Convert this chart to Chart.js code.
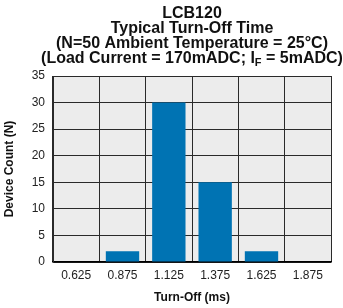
<!DOCTYPE html>
<html>
<head>
<meta charset="utf-8">
<script src="https://cdn.jsdelivr.net/npm/chart.js@4.4.1/dist/chart.umd.min.js"></script>
<style>
  html, body { margin: 0; padding: 0; background: #fff; }
  #wrap { width: 343px; height: 308px; }
</style>
</head>
<body>
<div id="wrap"><canvas id="chart" width="343" height="308"></canvas></div>
<script>
(function () {
    "use strict";

    // Data
    const categories = ["0.625", "0.875", "1.125", "1.375", "1.625", "1.875"];
    const deviceCounts = [0, 2, 30, 15, 2, 0];
    const yTickMax = 35;
    const yTickStep = 5;
    const titleLines = [
        "LCB120",
        "Typical Turn-Off Time",
        "(N=50 Ambient Temperature = 25\u00B0C)",
    ];
    // last title line has a subscript: I with F below
    const titleLastLine = ["(Load Current = 170mADC; I", "F", " = 5mADC)"];

    const fontFamily = "'Liberation Sans', Arial, Helvetica, sans-serif";

    // Grey plot background
    const plotBackground = {
        id: "plotBackground",
        beforeDraw(chart) {
            const { ctx, chartArea } = chart;
            ctx.save();
            ctx.fillStyle = "#ececec";
            ctx.fillRect(chartArea.left, chartArea.top,
                chartArea.right - chartArea.left, chartArea.bottom - chartArea.top);
            ctx.restore();
        },
    };

    // Multi-line title with subscript
    const titleBlock = {
        id: "titleBlock",
        afterDraw(chart) {
            const { ctx, chartArea } = chart;
            const cx = (chartArea.left + chartArea.right) / 2;
            ctx.save();
            ctx.fillStyle = "#111";
            ctx.textBaseline = "alphabetic";
            ctx.font = "bold 16px " + fontFamily;
            ctx.textAlign = "center";
            const baselines = [17.5, 32.5, 47.5, 62.5];
            titleLines.forEach((line, i) => {
                ctx.fillText(line, cx, baselines[i]);
            });

            // last line drawn in parts
            ctx.textAlign = "left";
            const bigFont = "bold 16px " + fontFamily;
            const subFont = "bold 11px " + fontFamily;
            ctx.font = bigFont;
            const w1 = ctx.measureText(titleLastLine[0]).width;
            const w3 = ctx.measureText(titleLastLine[2]).width;
            ctx.font = subFont;
            const w2 = ctx.measureText(titleLastLine[1]).width;
            let x = cx - (w1 + w2 + w3) / 2;
            const y = baselines[3];
            ctx.font = bigFont;
            ctx.fillText(titleLastLine[0], x, y);
            x += w1;
            ctx.font = subFont;
            ctx.fillText(titleLastLine[1], x, y + 3);
            x += w2;
            ctx.font = bigFont;
            ctx.fillText(titleLastLine[2], x, y);
            ctx.restore();
        },
    };

    const ctx = document.getElementById("chart").getContext("2d");

    new Chart(ctx, {
        type: "bar",
        data: {
            labels: categories,
            datasets: [
                {
                    data: deviceCounts,
                    backgroundColor: "#0073b3",
                    borderWidth: 0,
                    barPercentage: 0.72,
                    categoryPercentage: 1,
                },
            ],
        },
        options: {
            responsive: false,
            animation: false,
            devicePixelRatio: 1,
            layout: {
                padding: { top: 76, right: 12, bottom: 0, left: 0 },
            },
            plugins: {
                legend: { display: false },
                title: { display: false },
                tooltip: { enabled: false },
            },
            scales: {
                x: {
                    grid: {
                        offset: true,
                        color: "#2a2a2a",
                        lineWidth: 1,
                        drawTicks: false,
                    },
                    border: { display: true, color: "#000", width: 1.5 },
                    ticks: {
                        color: "#222",
                        font: { family: fontFamily, size: 12 },
                        padding: 6,
                    },
                    title: {
                        display: true,
                        text: "Turn-Off (ms)",
                        color: "#111",
                        font: { family: fontFamily, size: 12, weight: "bold" },
                        padding: { top: 3, bottom: 3 },
                    },
                    afterFit(scale) {
                        scale.height = 46;
                    },
                },
                y: {
                    min: 0,
                    max: yTickMax,
                    grid: {
                        color: "#2a2a2a",
                        lineWidth: 1,
                        drawTicks: false,
                    },
                    border: { display: true, color: "#2a2a2a", width: 1 },
                    ticks: {
                        stepSize: yTickStep,
                        color: "#222",
                        font: { family: fontFamily, size: 12 },
                        padding: 8,
                    },
                    title: {
                        display: true,
                        text: "Device Count (N)",
                        color: "#111",
                        font: { family: fontFamily, size: 12, weight: "bold" },
                        padding: { top: 2, bottom: 0 },
                    },
                    afterFit(scale) {
                        scale.width = 53;
                    },
                },
            },
        },
        plugins: [plotBackground, titleBlock],
    });
})();
</script>
</body>
</html>
